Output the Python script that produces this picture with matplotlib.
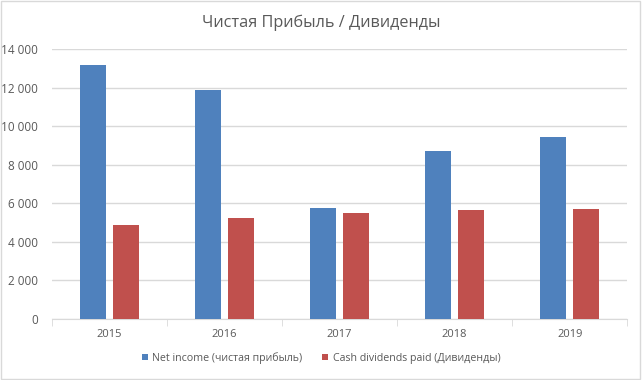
import numpy as np
import matplotlib.pyplot as plt
from matplotlib.patches import Rectangle

years = ['2015', '2016', '2017', '2018', '2019']
net_income = [13180, 11870, 5750, 8700, 9430]
dividends = [4900, 5250, 5490, 5650, 5700]
yticks = [0, 2000, 4000, 6000, 8000, 10000, 12000, 14000]
ytick_labels = ['0', '2 000', '4 000', '6 000', '8 000', '10 000', '12 000', '14 000']

blue = '#4F81BD'
red = '#C0504D'
txt = '#595959'
plt.rcParams['font.family'] = ['Open Sans', 'DejaVu Sans']

fig = plt.figure(figsize=(6.42, 3.80), dpi=100)
ax = fig.add_axes([0.081, 0.1605, 0.896, 0.71])

x = np.arange(len(years))
w = 0.226
off = 0.143
ax.bar(x - off, net_income, w, color=blue, label='Net income (чистая прибыль)', zorder=3)
ax.bar(x + off, dividends, w, color=red, label='Cash dividends paid (Дивиденды)', zorder=3)

ax.set_xlim(-0.5, len(years) - 0.5)
ax.set_ylim(0, 14000)
ax.set_yticks(yticks)
ax.set_yticklabels(ytick_labels)
ax.set_xticks(x)
ax.set_xticklabels(years)
ax.set_xticks(np.arange(-0.5, len(years)), minor=True)
ax.tick_params(axis='x', which='major', length=0, pad=7, labelsize=8, labelcolor=txt)
ax.tick_params(axis='x', which='minor', length=5, color='#D9D9D9')
ax.tick_params(axis='y', length=0, pad=10, labelsize=8.5, labelcolor=txt)

ax.grid(axis='y', color='#D9D9D9', linewidth=1, zorder=0)
for s in ['top', 'right', 'left']:
    ax.spines[s].set_visible(False)
ax.spines['bottom'].set_color('#D9D9D9')

fig.text(0.5, 0.94, 'Чистая Прибыль / Дивиденды', ha='center', va='center',
         fontsize=11.7, color=txt)

ax.legend(loc='center', bbox_to_anchor=(0.5, 0.058), bbox_transform=fig.transFigure,
          ncol=2, frameon=False, fontsize=7.7, labelcolor=txt, handlelength=0.6,
          handleheight=0.6, handletextpad=0.4, columnspacing=1.8)

fig.patches.append(Rectangle((0.002, 0.003), 0.995, 0.994, transform=fig.transFigure,
                             fill=False, edgecolor='#D9D9D9', linewidth=1))

fig.savefig('out.png', dpi=100)
